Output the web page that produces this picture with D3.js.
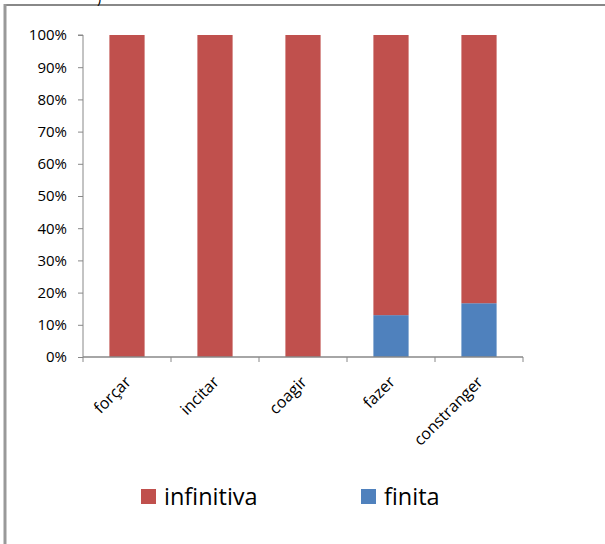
<!DOCTYPE html>
<html><head><meta charset="utf-8">
<script src="https://cdn.jsdelivr.net/npm/d3@7"></script>
<style>body{margin:0;background:#fff}svg{display:block}</style>
</head><body>
<script>
const categories = ["forçar","incitar","coagir","fazer","constranger"];
const finita = [0, 0, 0, 13.0, 16.7];
const infinitiva = [100, 100, 100, 87.0, 83.3];
const yTicks = [0,10,20,30,40,50,60,70,80,90,100];
const seriesNames = ["infinitiva","finita"];
const colors = {infinitiva:"#C0504D", finita:"#4F81BD"};

const W=605,H=544;
const svg=d3.select("body").append("svg").attr("width",W).attr("height",H);
const font="'Open Sans', sans-serif";

// frame
svg.append("line").attr("x1",4).attr("x2",W).attr("y1",5).attr("y2",5).attr("stroke","#888").attr("stroke-width",2);
svg.append("line").attr("x1",5).attr("x2",5).attr("y1",4).attr("y2",H).attr("stroke","#999").attr("stroke-width",3);
svg.append("text").attr("x",97).attr("y",3).attr("font-family",font).attr("font-size",14).text(")");

const x=d3.scaleBand().domain(categories).range([83,523]).paddingInner(0.6).paddingOuter(0.3);
const y=d3.scaleLinear().domain([0,100]).range([357,35]);

const data=categories.map((c,i)=>({cat:c,finita:finita[i],infinitiva:infinitiva[i]}));
const stack=d3.stack().keys(["finita","infinitiva"])(data);
svg.append("g").selectAll("g").data(stack).join("g").attr("fill",d=>colors[d.key])
 .selectAll("rect").data(d=>d).join("rect")
 .attr("x",d=>x(d.data.cat)).attr("width",x.bandwidth())
 .attr("y",d=>y(d[1])).attr("height",d=>y(d[0])-y(d[1]));

// y axis
const ya=svg.append("g").attr("transform","translate(83,0)")
 .call(d3.axisLeft(y).tickValues(yTicks).tickFormat(d=>d+"%").tickSize(5).tickPadding(11));
ya.select(".domain").attr("stroke","#888").attr("d","M-5,35H0V357");
ya.selectAll(".tick line").attr("stroke","#888");
ya.selectAll("text").attr("font-family",font).attr("font-size",15).attr("fill","#000");

// x axis
const xa=svg.append("g").attr("transform","translate(0,357)");
xa.append("line").attr("x1",83).attr("x2",523).attr("stroke","#888").attr("stroke-width",1.5);
const step=x.step();
const bounds=d3.range(categories.length+1).map(i=>83+i*step);
xa.selectAll(".tk").data(bounds).join("line").attr("x1",d=>d).attr("x2",d=>d).attr("y1",0).attr("y2",5).attr("stroke","#888");
xa.selectAll(".lb").data(categories).join("text")
 .attr("transform",d=>`translate(${x(d)+x.bandwidth()/2+5},${26}) rotate(-45)`)
 .attr("text-anchor","end").attr("font-family",font).attr("font-size",16).text(d=>d);

// legend
const lg=svg.append("g");
const lx=[141,361];
seriesNames.forEach((s,i)=>{
 lg.append("rect").attr("x",lx[i]).attr("y",489).attr("width",15).attr("height",15).attr("fill",colors[s]);
 lg.append("text").attr("x",lx[i]+23).attr("y",505).attr("font-family",font).attr("font-size",23.5).text(s);
});
</script>
</body></html>
